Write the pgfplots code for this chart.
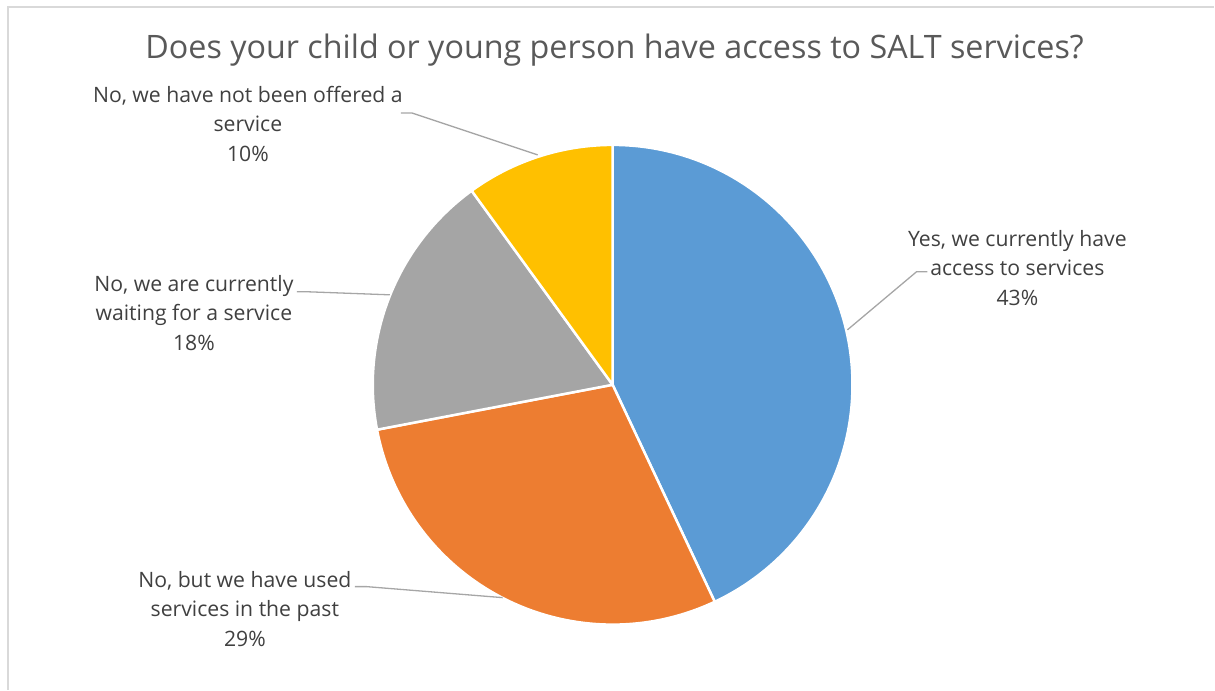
\documentclass[border=0pt]{standalone}
\usepackage{pgfplots}
\pgfplotsset{compat=1.18}
\usepackage{pgfplotstable}
\usepackage{fontspec}
\setmainfont{Open Sans}
\definecolor{s0}{HTML}{5B9BD5}
\definecolor{s1}{HTML}{ED7D31}
\definecolor{s2}{HTML}{A5A5A5}
\definecolor{s3}{HTML}{FFC000}
\definecolor{lbl}{HTML}{404040}
\definecolor{ttl}{HTML}{595959}
\definecolor{lead}{HTML}{A6A6A6}
\definecolor{frame}{HTML}{D9D9D9}
\pgfplotstableread{
share
43
29
18
10
}\piedata
\begin{document}
\begin{tikzpicture}
\begin{axis}[scale only axis, width=1215pt, height=688pt,
  xmin=0, xmax=1215, ymin=0, ymax=688, y dir=reverse,
  hide axis, clip=false]
\pgfplotsextra{
  \path (axis cs:0,0) rectangle (axis cs:1215,688);
  \draw[color=frame, line width=1.5pt] (axis cs:8,690) -- (axis cs:8,7) -- (axis cs:1215,7);
  \gdef\cum{90}
  \pgfplotsforeachungrouped \i in {0,...,3}{
    \pgfplotstablegetelem{\i}{share}\of\piedata
    \pgfmathsetmacro\a{\cum}
    \pgfmathsetmacro\b{\cum-3.6*\pgfplotsretval}
    \filldraw[fill=s\i, draw=white, line width=2.5pt, line join=round]
      (axis cs:613,385) -- ++(\a:240pt) arc[start angle=\a, end angle=\b, radius=240pt] -- cycle;
    \global\let\cum\b
  }
  \draw[lead, line width=1.3pt] (axis cs:401,113) -- (axis cs:412,113) -- (axis cs:538,155);
  \draw[lead, line width=1.3pt] (axis cs:848,330) -- (axis cs:917,272) -- (axis cs:928,272);
  \draw[lead, line width=1.3pt] (axis cs:297,292) -- (axis cs:309,292) -- (axis cs:390,295);
  \draw[lead, line width=1.3pt] (axis cs:355,587) -- (axis cs:367,587) -- (axis cs:503,598);
  \node[font=\fontsize{32.3}{38}\selectfont, text=ttl] at (axis cs:615,50)
    {Does your child or young person have access to SALT services?};
  \begin{scope}[every node/.style={align=center, font=\fontsize{21.2}{29.5}\selectfont, text=lbl}]
  \node at (axis cs:248,124) {No, we have not been offered a\\service\\10\%};
  \node at (axis cs:1018,268) {Yes, we currently have\\access to services\\43\%};
  \node at (axis cs:194,313) {No, we are currently\\waiting for a service\\18\%};
  \node at (axis cs:245,609) {No, but we have used\\services in the past\\29\%};
  \end{scope}
}
\end{axis}
\end{tikzpicture}
\end{document}
